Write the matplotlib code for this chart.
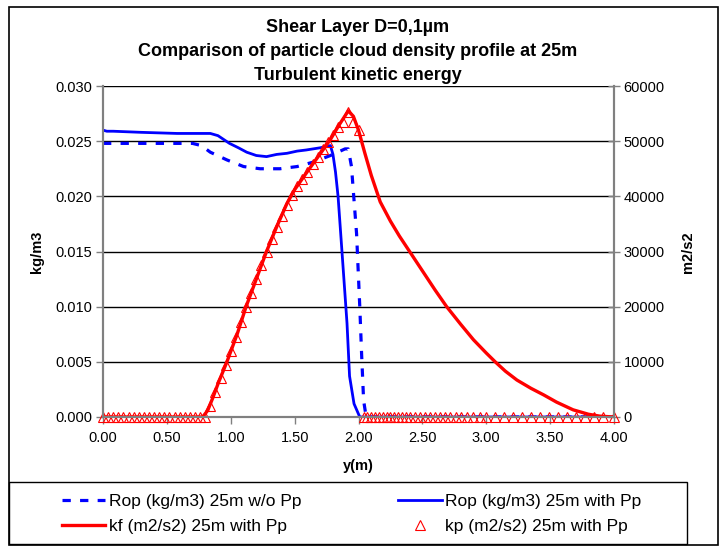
import matplotlib
matplotlib.use("Agg")
import matplotlib.pyplot as plt
from matplotlib.patches import Rectangle

plt.rcParams['font.family'] = ['Liberation Sans', 'DejaVu Sans']

# Rop ohne Partikel-Druck (gestrichelt)
rop_wo_x = [0.00, 0.70, 0.77, 0.84, 0.97, 1.10, 1.23, 1.385, 1.52, 1.645, 1.78, 1.895,
            1.92, 1.945, 1.985, 2.01, 2.025, 2.04, 2.06, 4.00]
rop_wo_y = [0.0248, 0.0248, 0.0246, 0.0240, 0.0233, 0.0227, 0.0225, 0.0225, 0.0227, 0.0231,
            0.0237, 0.0243, 0.0243, 0.0227, 0.0166, 0.0100, 0.0055, 0.0015, 0.0, 0.0]

# Rop mit Partikel-Druck
rop_w_x = [0.00, 0.03, 0.08, 0.30, 0.58, 0.84, 0.90, 0.99, 1.06, 1.125, 1.20, 1.28, 1.36,
           1.44, 1.52, 1.59, 1.70, 1.78, 1.80, 1.82, 1.84, 1.87, 1.91, 1.93, 1.965, 2.01, 4.00]
rop_w_y = [0.0260, 0.0259, 0.0259, 0.0258, 0.0257, 0.0257, 0.0255, 0.0248, 0.0244, 0.0240,
           0.0237, 0.0236, 0.0238, 0.0239, 0.0241, 0.0242, 0.0244, 0.0246, 0.0238, 0.0222,
           0.0200, 0.0151, 0.0085, 0.0037, 0.0012, 0.0, 0.0]

# kf (Linie)
kf_x = [0.00, 0.78, 0.82, 0.86, 0.90, 0.97, 1.05, 1.12, 1.20, 1.28, 1.36, 1.44, 1.50, 1.60,
        1.70, 1.78, 1.85, 1.92, 1.96, 2.00, 2.05, 2.10, 2.17, 2.25, 2.32, 2.40, 2.50, 2.60,
        2.69, 2.80, 2.90, 3.00, 3.07, 3.15, 3.24, 3.35, 3.45, 3.55, 3.68, 3.80, 3.89, 4.00]
kf_y = [0, 0, 1200, 3500, 6000, 10000, 15000, 20000, 25000, 30000, 34500, 38700, 41200, 44500,
        47700, 50300, 53000, 55500, 54500, 52000, 47800, 43800, 39000, 35500, 32800, 30000,
        26500, 23000, 20000, 16800, 14000, 11600, 10000, 8300, 6700, 5200, 4000, 2700, 1300,
        500, 150, 0]

# kp (nur Marker)
kp_x = [0.00, 0.04, 0.08, 0.12, 0.16, 0.20, 0.24, 0.28, 0.32, 0.36, 0.40, 0.44, 0.48, 0.52,
        0.56, 0.60, 0.64, 0.68, 0.72, 0.76, 0.80, 0.84, 0.88, 0.92, 0.96, 1.00, 1.04, 1.08,
        1.12, 1.16, 1.20, 1.24, 1.28, 1.32, 1.36, 1.40, 1.44, 1.48, 1.52, 1.56, 1.60, 1.64,
        1.68, 1.72, 1.76, 1.80, 1.84, 1.88, 1.92, 1.96, 2.00,
        2.04, 2.07, 2.10, 2.13, 2.16, 2.19, 2.22, 2.25, 2.28, 2.31, 2.34, 2.37, 2.40, 2.44,
        2.48, 2.52, 2.56, 2.60, 2.64, 2.68, 2.72, 2.76, 2.80, 2.85, 2.90, 2.95, 3.00,
        3.07, 3.14, 3.21, 3.28, 3.35, 3.42, 3.49, 3.56, 3.63, 3.70, 3.77, 3.84, 3.91, 4.00]
kp_y = [0, 0, 0, 0, 0, 0, 0, 0, 0, 0, 0, 0, 0, 0,
        0, 0, 0, 0, 0, 0, 0, 2000, 4500, 7000, 9500, 12000, 14500, 17300,
        20000, 22500, 25000, 27500, 30000, 32300, 34500, 36500, 38500, 40300, 41800, 43200, 44500, 45800,
        47200, 48500, 49800, 51200, 52600, 53500, 55300, 53500, 52000,
        0, 0, 0, 0, 0, 0, 0, 0, 0, 0, 0, 0, 0, 0,
        0, 0, 0, 0, 0, 0, 0, 0, 0, 0, 0, 0, 0,
        0, 0, 0, 0, 0, 0, 0, 0, 0, 0, 0, 0, 0, 0]

x_ticks = [0.0, 0.5, 1.0, 1.5, 2.0, 2.5, 3.0, 3.5, 4.0]
left_ticks = [0.000, 0.005, 0.010, 0.015, 0.020, 0.025, 0.030]
right_ticks = [0, 10000, 20000, 30000, 40000, 50000, 60000]

W, H = 723, 546
fig = plt.figure(figsize=(7.23, 5.46), dpi=100)
ax = fig.add_axes([103 / W, 1 - 417 / H, (614 - 103) / W, (417 - 86) / H])
ax2 = ax.twinx()

ax.set_xlim(0, 4)
ax.set_ylim(0, 0.030)
ax2.set_ylim(0, 60000)
ax.set_xticks(x_ticks)
ax.set_xticklabels([f"{t:.2f}" for t in x_ticks])
ax.set_yticks(left_ticks)
ax.set_yticklabels([f"{t:.3f}" for t in left_ticks])
ax2.set_yticks(right_ticks)
ax2.set_yticklabels([str(t) for t in right_ticks])

ax.yaxis.grid(True, color="black", lw=1.0)
ax.set_axisbelow(True)

l1, = ax.plot(rop_wo_x, rop_wo_y, color="blue", lw=2.3, linestyle=(0, (2.6, 2.9)),
              label="Rop (kg/m3) 25m w/o Pp")
l2, = ax.plot(rop_w_x, rop_w_y, color="blue", lw=2.0, label="Rop (kg/m3) 25m with Pp")
l3, = ax2.plot(kf_x, kf_y, color="red", lw=2.4, label="kf (m2/s2) 25m with Pp")
l4, = ax2.plot(kp_x, kp_y, linestyle="none", marker="^", ms=6.5, mfc="none", mec="red",
               mew=0.8, label="kp (m2/s2) 25m with Pp", clip_on=False)

for a in (ax, ax2):
    a.spines["top"].set_visible(False)
    for s in ("left", "right", "bottom"):
        a.spines[s].set_color("#808080")
        a.spines[s].set_linewidth(1.5)

ax.tick_params(axis="y", direction="out", length=5, width=1, color="#808080", labelsize=10.5, pad=3)
ax.tick_params(axis="x", direction="out", length=5, width=1, color="#808080", labelsize=10.5, pad=5)
ax2.tick_params(axis="y", direction="inout", length=8, width=1, color="#808080", labelsize=10.5, pad=3)

fig.text(37 / W, 1 - 252 / H, "kg/m3", rotation=90, ha="center", va="center",
         fontsize=10.5, fontweight="bold")
fig.text(688 / W, 1 - 252 / H, "m2/s2", rotation=90, ha="center", va="center",
         fontsize=10.5, fontweight="bold")
fig.text(358 / W, 1 - 466 / H, "y(m)", ha="center", va="center", fontsize=10.5, fontweight="bold")

titles = ["Shear Layer D=0,1µm",
          "Comparison of particle cloud density profile at 25m",
          "Turbulent kinetic energy"]
for i, t in enumerate(titles):
    fig.text(358 / W, 1 - (28 + 24 * i) / H, t, ha="center", va="center",
             fontsize=13, fontweight="bold")

# Rahmen
fig.patches.append(Rectangle((9 / W, 1 / H), (718 - 9) / W, (545 - 7) / H, transform=fig.transFigure,
                             fill=False, edgecolor="black", lw=1.2))
fig.patches.append(Rectangle((9 / W, 2 / H), (687 - 9) / W, (544 - 482) / H, transform=fig.transFigure,
                             fill=False, edgecolor="black", lw=1.0))

fig.legend(handles=[l1, l3, l2, l4], ncol=2, loc="center left",
           bbox_to_anchor=(53 / W, 1 - 514 / H), frameon=False, fontsize=12.5,
           handlelength=2.5, handletextpad=0.2, columnspacing=5.6, labelspacing=0.6,
           borderpad=0.0)

fig.savefig("out.png", dpi=100)
